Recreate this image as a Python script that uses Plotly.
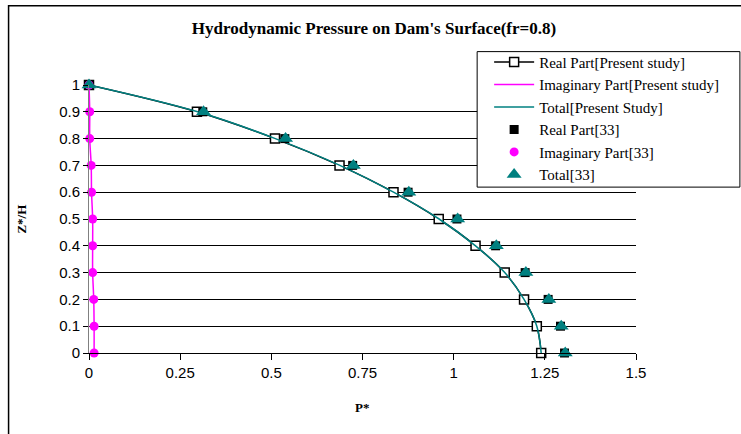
import plotly.graph_objects as go

# Relative depth Z*/H
depth = [0.0, 0.1, 0.2, 0.3, 0.4, 0.5, 0.6, 0.7, 0.8, 0.9, 1.0]

# Present study (solid lines)
real_present = [1.240, 1.228, 1.193, 1.140, 1.060, 0.959, 0.835, 0.687, 0.510, 0.296, 0.0]
imag_present = [0.014, 0.014, 0.013, 0.010, 0.010, 0.010, 0.007, 0.006, 0.002, 0.002, 0.0]
total_present = [1.240, 1.228, 1.193, 1.140, 1.060, 0.960, 0.835, 0.688, 0.511, 0.298, 0.0]

# Reference [33] (markers only)
real_ref = [1.304, 1.293, 1.259, 1.196, 1.115, 1.009, 0.875, 0.723, 0.537, 0.312, 0.0]
imag_ref = [0.014, 0.014, 0.013, 0.010, 0.010, 0.010, 0.007, 0.006, 0.002, 0.002, 0.0]
total_ref = [1.306, 1.295, 1.261, 1.198, 1.117, 1.011, 0.877, 0.725, 0.539, 0.314, 0.0]

x_ticks = [0, 0.25, 0.5, 0.75, 1, 1.25, 1.5]
y_ticks = [0, 0.1, 0.2, 0.3, 0.4, 0.5, 0.6, 0.7, 0.8, 0.9, 1]

TEAL = "#008080"
MAGENTA = "#FF00FF"
SERIF = "Liberation Serif, Times New Roman, serif"
SANS = "Liberation Sans, Arial, sans-serif"

W, H = 741, 434
L, R, T, B = 88.5, 105, 84.5, 80.5
PW, PH = W - L - R, H - T - B


def px_x(p):
    return (p - L) / PW


def px_y(p):
    return (H - B - p) / PH


fig = go.Figure()

fig.add_trace(go.Scatter(
    x=real_present, y=depth, name="Real Part[Present study]",
    mode="lines+markers", line=dict(color="black", width=1.5, shape="spline"),
    marker=dict(symbol="square", size=9, color="white", line=dict(color="black", width=1.5)),
    cliponaxis=False, legendgroup="a",
))
fig.add_trace(go.Scatter(
    x=imag_present, y=depth, name="Imaginary Part[Present study]",
    mode="lines", line=dict(color=MAGENTA, width=1.5, shape="spline"),
    cliponaxis=False, legendgroup="b",
))
fig.add_trace(go.Scatter(
    x=total_present, y=depth, name="Total[Present Study]",
    mode="lines", line=dict(color=TEAL, width=1.5, shape="spline"),
    cliponaxis=False, legendgroup="c",
))
fig.add_trace(go.Scatter(
    x=real_ref, y=depth, name="Real Part[33]",
    mode="markers", marker=dict(symbol="square", size=9, color="black"),
    cliponaxis=False, legendgroup="d",
))
fig.add_trace(go.Scatter(
    x=imag_ref, y=depth, name="Imaginary Part[33]",
    mode="markers", marker=dict(symbol="circle", size=9, color=MAGENTA),
    cliponaxis=False, legendgroup="e",
))
fig.add_trace(go.Scatter(
    x=total_ref, y=depth, name="Total[33]",
    mode="markers", marker=dict(symbol="triangle-up", size=13, color=TEAL),
    cliponaxis=False, legendgroup="f",
))

fig.update_xaxes(
    range=[0, 1.5], tickvals=x_ticks, ticktext=[f"{v:g}" for v in x_ticks],
    showgrid=False, zeroline=False, showline=True, linecolor="black", linewidth=1,
    ticks="outside", ticklen=6, tickcolor="black", tickwidth=1,
    tickfont=dict(family=SANS, size=15, color="black"),
)
fig.update_yaxes(
    range=[0, 1], tickvals=y_ticks, ticktext=[f"{v:g}" for v in y_ticks],
    showgrid=True, gridcolor="black", gridwidth=1, zeroline=False,
    showline=True, linecolor="#808080", linewidth=1,
    ticks="outside", ticklen=5, tickcolor="black", tickwidth=1,
    tickfont=dict(family=SANS, size=15, color="black"),
)

fig.update_layout(
    width=W, height=H,
    margin=dict(l=L, r=R, t=T, b=B, pad=0),
    paper_bgcolor="white", plot_bgcolor="white",
    title=dict(
        text="<b>Hydrodynamic Pressure on Dam's Surface(fr=0.8)</b>",
        x=374 / W, xanchor="center", y=1 - 28 / H, yanchor="middle", yref="container",
        font=dict(family=SERIF, size=17, color="black"),
    ),
    showlegend=True,
    legend=dict(
        x=px_x(489), y=px_y(45), xanchor="left", yanchor="top",
        bgcolor="rgba(0,0,0,0)", borderwidth=0,
        font=dict(family=SERIF, size=15, color="black"),
        itemwidth=40, tracegroupgap=0,
    ),
    shapes=[
        # outer chart frame
        dict(type="rect", xref="paper", yref="paper",
             x0=px_x(8), x1=px_x(748), y0=px_y(5), y1=px_y(445),
             line=dict(color="black", width=1.5), fillcolor="rgba(0,0,0,0)", layer="below"),
        # legend box
        dict(type="rect", xref="paper", yref="paper",
             x0=px_x(477), x1=px_x(740), y0=px_y(51), y1=px_y(187),
             line=dict(color="black", width=1), fillcolor="white", layer="above"),
    ],
    annotations=[
        dict(text="<b>Z*/H</b>", xref="paper", yref="paper", x=px_x(20), y=px_y(219),
             showarrow=False, textangle=-90, xanchor="center", yanchor="middle",
             font=dict(family=SERIF, size=13, color="black")),
        dict(text="<b>P*</b>", xref="paper", yref="paper", x=px_x(362), y=px_y(408),
             showarrow=False, xanchor="center", yanchor="middle",
             font=dict(family=SERIF, size=13, color="black")),
    ],
)

fig.write_html("out.html")
